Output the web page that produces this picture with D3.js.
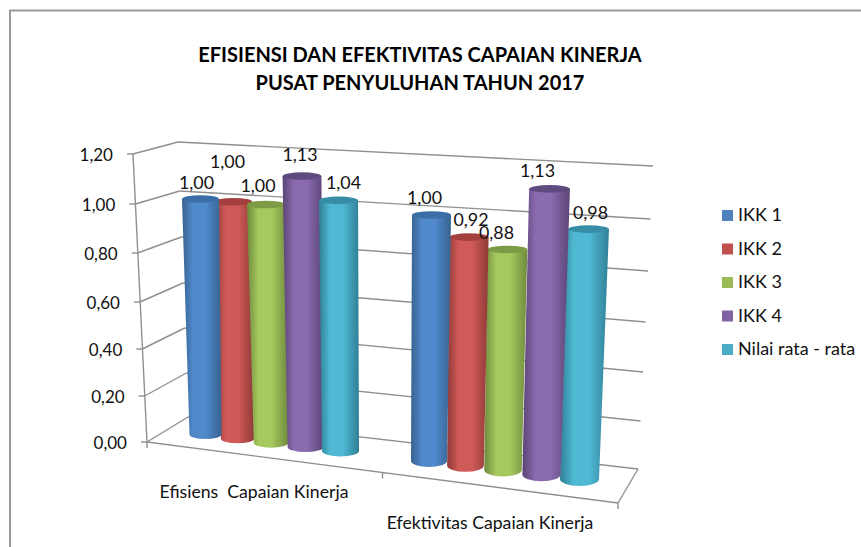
<!DOCTYPE html>
<html><head><meta charset="utf-8">
<script src="https://cdn.jsdelivr.net/npm/d3@7"></script>
<style>html,body{margin:0;background:#fff}svg{display:block}</style></head><body>
<svg id="c" width="861" height="547"></svg>
<script>
const categories = ["Efisiens  Capaian Kinerja", "Efektivitas Capaian Kinerja"];
const seriesNames = ["IKK 1", "IKK 2", "IKK 3", "IKK 4", "Nilai rata - rata"];
const ikk1 = [1.00, 1.00];
const ikk2 = [1.00, 0.92];
const ikk3 = [1.00, 0.88];
const ikk4 = [1.13, 1.13];
const rataRata = [1.04, 0.98];
const tickValues = [0, 0.2, 0.4, 0.6, 0.8, 1.0, 1.2];
const titleLines = ["EFISIENSI DAN EFEKTIVITAS CAPAIAN KINERJA", "PUSAT PENYULUHAN TAHUN 2017"];
const seriesValues = [ikk1, ikk2, ikk3, ikk4, rataRata];

// style
const colors = [
  {base:"#4F81BD", mid:"#5089CC", dark:"#37628F", top:"#3A6EA5"},
  {base:"#C0504D", mid:"#D05A57", dark:"#8E3A38", top:"#A33F3C"},
  {base:"#9BBB59", mid:"#A6C95F", dark:"#6F8A3C", top:"#7D9A45"},
  {base:"#8064A2", mid:"#8A6BAF", dark:"#5A4475", top:"#5F4A80"},
  {base:"#4BACC6", mid:"#4FB8D3", dark:"#2F7F95", top:"#368DA5"}
];
const gridColor = "#8f8f8f";
const font = "Lato, 'Open Sans', sans-serif";

const svg = d3.select("#c");
const defs = svg.append("defs");
colors.forEach((c,i)=>{
  const g = defs.append("linearGradient").attr("id","g"+i);
  [[0,c.dark],[0.28,c.mid],[0.6,c.mid],[1,c.dark]].forEach(([o,col])=>g.append("stop").attr("offset",o).attr("stop-color",col));
});

// horizontally stretch a text to match the wider face of the reference
function label(x,y,str,size,anchor,stretch,fill="#111",weight=400){
  const t = svg.append("text").attr("x",x).attr("y",y).attr("text-anchor",anchor)
    .attr("font-family",font).attr("font-size",size).attr("font-weight",weight).attr("fill",fill)
    .style("white-space","pre").text(str);
  if(stretch!==1){
    const len = t.node().getComputedTextLength();
    t.attr("textLength",len*stretch).attr("lengthAdjust","spacingAndGlyphs");
  }
  return t;
}

// frame
svg.append("path").attr("d","M10,547V10.5H861").attr("fill","none").attr("stroke","#9a9a9a").attr("stroke-width",2);

// perspective scales: value -> pixel along the corners of the 3D box
const yFront = d3.scaleLinear().domain(tickValues).range([442,396,349,302,253,204,154]);
const xFront = d3.scaleLinear().domain([0,1.2]).range([147,133]);
const yBackL = d3.scaleLinear().domain(tickValues).range([417,373,328,283,237,191,142]);
const xBackL = d3.scaleLinear().domain([0,1.2]).range([188,178]);
const yBackR = d3.scaleLinear().domain(tickValues).range([469,421,372,322,271,219,166]);
const xBackR = d3.scaleLinear().domain([0,1.2]).range([638,653]);

const line = (x1,y1,x2,y2,w=1.4)=>svg.append("line").attr("x1",x1).attr("y1",y1).attr("x2",x2).attr("y2",y2)
  .attr("stroke",gridColor).attr("stroke-width",w);

tickValues.forEach(v=>{
  line(xFront(v)-6,yFront(v),xFront(v),yFront(v));
  line(xFront(v),yFront(v),xBackL(v),yBackL(v));
  line(xBackL(v),yBackL(v),xBackR(v),yBackR(v));
  label(xFront(v)-20,yFront(v)+6.5,v.toFixed(2).replace(".",","),16.5,"end",1.03);
});
line(xFront(0),yFront(0),xFront(1.2),yFront(1.2));
// floor
const fx = d3.scaleLinear().domain([0,2]).range([147,618]);
const fy = d3.scaleLinear().domain([0,2]).range([442,503]);
line(fx(0),fy(0),fx(2),fy(2));
line(fx(2),fy(2),638,469);
[0,1,2].forEach(i=>line(fx(i),fy(i),fx(i),fy(i)+6));

// slot position along the category axis
const group = d3.scaleOrdinal().domain(categories).range([0,6.5]);
const slotOf = (ci,si)=>group(categories[ci])+si;
const slotD = [0,1,2,3,4,6.5,7.5,8.5,9.5,10.5];
const xBase = d3.scaleLinear().domain(slotD).range([205.5,237.5,271,305.5,340.5,429,465.5,503,541.5,579.5]);
const lean  = d3.scaleLinear().domain(slotD).range([-5,-4,-5,-3.1,-1.9,2.5,3.8,5.1,7.1,9.2]);
const ryBase = d3.scaleLinear().domain([0,10.5]).range([4.5,7]);
const yBase = d3.scaleLinear().domain([0,4,6.5,10.5]).range([434.5,451,461,479]);
const unitH = d3.scaleLinear().domain([0,4,6.5,10.5]).range([235.5,241,246,255]);
const wBase = d3.scaleLinear().domain([0,4,6.5,10.5]).range([32,37,36,39]);
const wGrow = d3.scaleLinear().domain([0,4,6.5,10.5]).range([5,2,3,2]);
const ryTop = 3.8;

// label nudges relative to the top of each bar [dx, dy]
const nudges = [
 [[-4,-10],[-6,-34],[-8,-13],[-2,-15],[5,-11]],
 [[-7,-11],[2,-11],[-11,-11],[-12,-12],[2,-10]]
];

const order = [[1,0,2,3,4],[4,3,2,1,0]];
categories.forEach((cat,ci)=>{
  order[ci].forEach(si=>{
    const v = seriesValues[si][ci], p = slotOf(ci,si);
    const bx=xBase(p), by=yBase(p), tx=bx+lean(p)*v, ty=by-unitH(p)*v;
    const bw=wBase(p)/2, tw=(wBase(p)+wGrow(p)*v)/2, rb=ryBase(p);
    svg.append("path")
      .attr("d",`M${tx-tw},${ty}L${bx-bw},${by}A${bw},${rb} 0 0 0 ${bx+bw},${by}L${tx+tw},${ty}Z`)
      .attr("fill",`url(#g${si})`);
    svg.append("ellipse").attr("cx",tx).attr("cy",ty).attr("rx",tw).attr("ry",ryTop).attr("fill",colors[si].top);
  });
});
categories.forEach((cat,ci)=>{
  seriesValues.forEach((vals,si)=>{
    const v=vals[ci], p=slotOf(ci,si);
    const tx=xBase(p)+lean(p)*v, ty=yBase(p)-unitH(p)*v;
    const [dx,dy]=nudges[ci][si];
    label(tx+dx,ty+dy,v.toFixed(2).replace(".",","),17,"middle",1.05);
  });
});

// category labels
const catPos = d3.scalePoint().domain(categories).range([254,490]);
const catY = d3.scalePoint().domain(categories).range([498,529]);
categories.forEach(c=>label(catPos(c),catY(c),c,16.5,"middle",1.07));

// legend
const legY = d3.scalePoint().domain(seriesNames).range([215.5,349.5]);
seriesNames.forEach((n,i)=>{
  svg.append("rect").attr("x",722).attr("y",legY(n)-5.5).attr("width",11).attr("height",11).attr("fill",colors[i].base);
  label(738,legY(n)+5.5,n,16.5,"start",1.09);
});

// title
titleLines.forEach((t,i)=>label(420,61.5+i*28.5,t,20,"middle",1,"#000",700));
</script></body></html>
